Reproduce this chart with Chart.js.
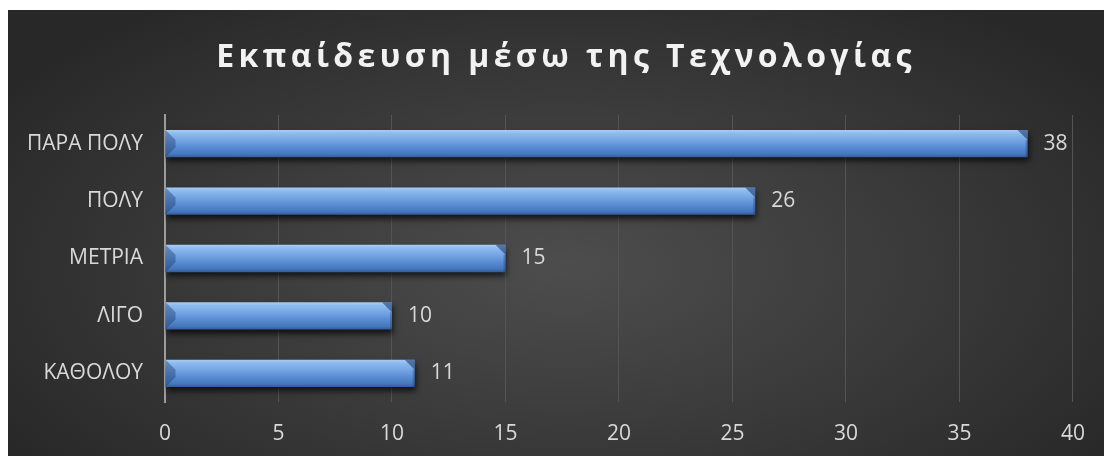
<!DOCTYPE html>
<html>
<head>
<meta charset="utf-8">
<script src="https://cdn.jsdelivr.net/npm/chart.js@4/dist/chart.umd.min.js"></script>
<style>
    html, body { margin: 0; padding: 0; background: #ffffff; overflow: hidden; }
    #wrap {
        position: absolute;
        left: 8px;
        top: 10px;
        right: -20px;
        bottom: -20px;
        background: radial-gradient(ellipse 60% 70% at 50% 55%, #4d4d4d 0%, #3b3b3b 50%, #282828 100%);
    }
    #chart { display: block; }
</style>
</head>
<body>
<div id="wrap"><canvas id="chart" width="1096" height="446"></canvas></div>
<script>
// Survey answers, top to bottom
const categories = ['ΠΑΡΑ ΠΟΛΥ', 'ΠΟΛΥ', 'ΜΕΤΡΙΑ', 'ΛΙΓΟ', 'ΚΑΘΟΛΟΥ'];
const counts = [38, 26, 15, 10, 11];
const xTicks = [0, 5, 10, 15, 20, 25, 30, 35, 40];
const chartTitle = 'Εκπαίδευση μέσω της Τεχνολογίας';

const FONT = "'Open Sans', 'Noto Sans', sans-serif";
const TEXT_COLOR = '#d9d9d9';
const BAR_RATIO = 0.475;

/**
 * Vertical blue gradient for one bar, based on its pixel position
 */
function barGradient(context) {
    const chart = context.chart;
    const area = chart.chartArea;
    if (!area) {
        return '#5f93d8';
    }
    const yScale = chart.scales.y;
    const center = yScale.getPixelForValue(context.dataIndex);
    const half = (area.height / categories.length) * BAR_RATIO / 2;
    const g = chart.ctx.createLinearGradient(0, center - half, 0, center + half);
    g.addColorStop(0, '#a9cdf6');
    g.addColorStop(0.12, '#8ebbef');
    g.addColorStop(0.45, '#6d9edf');
    g.addColorStop(0.6, '#5c8fd5');
    g.addColorStop(0.88, '#4677bd');
    g.addColorStop(1, '#325c9a');
    return g;
}

// Title with wider letter spacing
const titlePlugin = {
    id: 'spacedTitle',
    afterDraw(chart) {
        const ctx = chart.ctx;
        ctx.save();
        ctx.font = 'bold 32px ' + FONT;
        ctx.fillStyle = '#f2f2f2';
        ctx.textAlign = 'center';
        ctx.textBaseline = 'alphabetic';
        ctx.letterSpacing = '4.4px';
        ctx.fillText(chartTitle, chart.width / 2 + 10, 57);
        ctx.restore();
    },
};

// Drop shadow under the bars
const shadowPlugin = {
    id: 'barShadow',
    beforeDatasetsDraw(chart) {
        const ctx = chart.ctx;
        ctx.save();
        ctx.shadowColor = 'rgba(0, 0, 0, 0.7)';
        ctx.shadowBlur = 6;
        ctx.shadowOffsetX = 1;
        ctx.shadowOffsetY = 4;
    },
    afterDatasetsDraw(chart) {
        chart.ctx.restore();
    },
};

// Bevelled ends and value labels
const bevelPlugin = {
    id: 'barBevel',
    afterDatasetsDraw(chart) {
        const ctx = chart.ctx;
        const meta = chart.getDatasetMeta(0);
        ctx.save();
        meta.data.forEach((bar, i) => {
            const x0 = bar.base;
            const x1 = bar.x;
            const y0 = bar.y - bar.height / 2;
            const y1 = bar.y + bar.height / 2;
            const b = Math.min(10, bar.height / 2.7);

            // left facet
            ctx.fillStyle = 'rgba(25, 55, 105, 0.4)';
            ctx.beginPath();
            ctx.moveTo(x0, y0);
            ctx.lineTo(x0 + b, y0 + b);
            ctx.lineTo(x0 + b, y1 - b);
            ctx.lineTo(x0, y1);
            ctx.closePath();
            ctx.fill();

            // right facet
            ctx.fillStyle = 'rgba(20, 50, 100, 0.55)';
            ctx.beginPath();
            ctx.moveTo(x1 - b, y0);
            ctx.lineTo(x1, y0);
            ctx.lineTo(x1, y0 + b);
            ctx.closePath();
            ctx.fill();
            ctx.fillStyle = 'rgba(20, 50, 100, 0.3)';
            ctx.fillRect(x1 - 2, y0 + b, 2, y1 - y0 - b);

            // value label
            ctx.font = '21px ' + FONT;
            ctx.fillStyle = TEXT_COLOR;
            ctx.textAlign = 'left';
            ctx.textBaseline = 'middle';
            ctx.fillText(String(counts[i]), x1 + 16, bar.y);
        });
        ctx.restore();
    },
};

const ctx = document.getElementById('chart').getContext('2d');
const chart = new Chart(ctx, {
    type: 'bar',
    data: {
        labels: categories,
        datasets: [
            {
                data: counts,
                backgroundColor: barGradient,
                borderWidth: 0,
                categoryPercentage: 1,
                barPercentage: BAR_RATIO,
            },
        ],
    },
    options: {
        indexAxis: 'y',
        responsive: false,
        animation: false,
        layout: {
            padding: { top: 105, right: 29, left: 0, bottom: 0 },
        },
        plugins: {
            legend: { display: false },
            tooltip: { enabled: false },
            title: { display: false },
        },
        scales: {
            x: {
                min: 0,
                max: 40,
                afterBuildTicks: (scale) => {
                    scale.ticks = xTicks.map((v) => ({ value: v }));
                },
                afterFit: (scale) => {
                    scale.height = 54;
                },
                grid: {
                    color: '#545454',
                    lineWidth: 1,
                    drawTicks: false,
                },
                border: { display: false },
                ticks: {
                    color: TEXT_COLOR,
                    padding: 19,
                    font: { family: FONT, size: 21 },
                },
            },
            y: {
                afterFit: (scale) => {
                    scale.width = 157;
                },
                grid: { display: false, drawTicks: false },
                border: { display: true, color: '#9c9c9c', width: 2 },
                ticks: {
                    color: TEXT_COLOR,
                    padding: 22,
                    font: { family: FONT, size: 21 },
                },
            },
        },
    },
    plugins: [shadowPlugin, bevelPlugin, titlePlugin],
});
</script>
</body>
</html>
